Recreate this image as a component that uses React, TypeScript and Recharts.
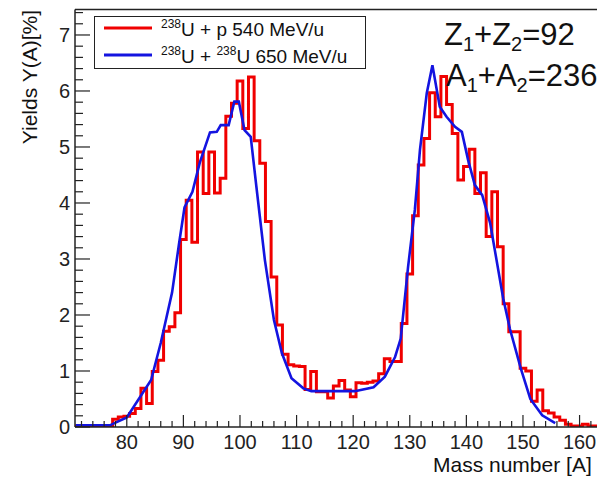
import React from "react";
import { ComposedChart, Legend, Line, ReferenceLine, XAxis, YAxis } from "recharts";

// 238U + p 540 MeV/u : histogram, one bin per mass number (71..163)
const protonA = Array.from({ length: 93 }, (_, i) => 71 + i);
const protonYields = [
  0.02, 0.02, 0.02, 0.02, 0.02, 0.02, 0.02, 0.14, 0.18, 0.19,
  0.24, 0.33, 0.69, 0.42, 0.99, 1.19, 1.71, 1.79, 2.04, 3.35,
  4.05, 3.3, 4.91, 4.17, 4.91, 4.18, 4.44, 5.55, 5.78, 6.18,
  5.33, 6.25, 5.11, 4.71, 3.67, 2.68, 1.82, 1.3, 1.11, 1.09,
  1.08, 0.67, 0.99, 0.63, 0.63, 0.52, 0.73, 0.83, 0.66, 0.54,
  0.79, 0.78, 0.8, 0.82, 0.95, 1.22, 1.17, 1.17, 1.85, 2.73,
  3.77, 4.68, 5.15, 5.97, 5.54, 6.26, 5.76, 5.24, 4.41, 4.65,
  4.96, 4.17, 4.54, 3.4, 4.2, 3.22, 2.2, 1.7, 1.7, 1.05,
  1.0, 0.46, 0.66, 0.29, 0.25, 0.18, 0.12, 0.05, 0.02, 0.02,
  0.05, 0.02, 0.02,
];

// 238U + 238U 650 MeV/u : calculated curve
const uraniumA = [
  71, 77, 80, 84.3, 86, 88, 89.2, 90.2, 91.6, 92.9,
  94.7, 95.9, 96.6, 98, 99, 99.8, 100.8, 101.9, 102.9, 104.4,
  106, 107.4, 109.1, 111.2, 112.6, 120.3, 123.6, 125.6, 127.4, 128.4,
  129.7, 130.9, 131.8, 133, 134, 135.3, 136.5, 138, 139.2, 140.3,
  141.5, 142.8, 144.2, 146.5, 147.7, 149.6, 151.3, 153.4, 155.7,
];
const uraniumYields = [
  0.03, 0.03, 0.17, 0.84, 1.5, 2.4, 3.25, 3.92, 4.2, 4.72,
  5.26, 5.27, 5.39, 5.39, 5.81, 5.81, 5.3, 5.18, 4.29, 2.98,
  1.91, 1.32, 0.87, 0.69, 0.64, 0.64, 0.71, 0.9, 1.25, 1.58,
  2.86, 3.88, 4.95, 5.96, 6.46, 5.72, 5.54, 5.36, 5.27, 4.77,
  4.32, 4.14, 3.64, 2.3, 1.75, 1.05, 0.5, 0.21, 0.07,
];

const X_MAJOR = [80, 90, 100, 110, 120, 130, 140, 150, 160];
const X_TICKS = Array.from({ length: 46 }, (_, i) => 72 + 2 * i);
const Y_MAJOR = [0, 1, 2, 3, 4, 5, 6, 7];
const Y_TICKS = Array.from({ length: 38 }, (_, i) => i / 5);

const X_MIN = 70.85;
const X_MAX = 163.08;
const Y_MAX = 7.455;

const RED = "#f00000";
const BLUE = "#1414e0";
const INK = "#222";
const FONT = '"Liberation Sans", Arial, Helvetica, sans-serif';

// bin edges at A-0.5 so a stepAfter line draws the histogram outline
const protonSteps = protonA.map((a, i) => ({ a: a - 0.5, y: protonYields[i] }));
protonSteps.push({ a: protonA[protonA.length - 1] + 0.5, y: protonYields[protonYields.length - 1] });
const uraniumCurve = uraniumA.map((a, i) => ({ a, y: uraniumYields[i] }));

function XTick({ x, y, payload }: any) {
  const v = payload.value;
  const major = X_MAJOR.includes(v);
  return (
    <g>
      <line x1={x} x2={x} y1={y} y2={y - (major ? 12 : 6)} stroke={INK} strokeWidth={1.2} />
      {major ? (
        <text x={x} y={y + 22} textAnchor="middle" fontSize={20} fill={INK} fontFamily={FONT}>
          {v}
        </text>
      ) : null}
    </g>
  );
}

function YTick({ x, y, payload }: any) {
  const v = payload.value;
  const major = Y_MAJOR.some((m) => Math.abs(m - v) < 1e-6);
  return (
    <g>
      <line x1={x} x2={x + (major ? 15 : 8)} y1={y} y2={y} stroke={INK} strokeWidth={1.2} />
      {major ? (
        <text x={x - 5} y={y + 7} textAnchor="end" fontSize={20} fill={INK} fontFamily={FONT}>
          {Math.round(v)}
        </text>
      ) : null}
    </g>
  );
}

function LegendBox() {
  return (
    <div style={{ width: 272, height: 53, border: `1.5px solid ${INK}`, boxSizing: "border-box", background: "#fff" }}>
      <svg width={270} height={50} style={{ display: "block" }}>
        <line x1={9} x2={57} y1={11} y2={11} stroke={RED} strokeWidth={3} />
        <line x1={9} x2={57} y1={38} y2={38} stroke={BLUE} strokeWidth={3} />
        <text x={66} y={19} fontSize={19} fill="#111" fontFamily={FONT}>
          <tspan fontSize={12} dy={-8}>238</tspan>
          <tspan dy={8}>U + p 540 MeV/u</tspan>
        </text>
        <text x={66} y={46} fontSize={19} fill="#111" fontFamily={FONT}>
          <tspan fontSize={12} dy={-8}>238</tspan>
          <tspan dy={8}>U + </tspan>
          <tspan fontSize={12} dy={-8}>238</tspan>
          <tspan dy={8}>U 650 MeV/u</tspan>
        </text>
      </svg>
    </div>
  );
}

export default function App() {
  return (
    <div style={{ position: "absolute", left: 0, top: 0, width: 597, height: 478, overflow: "hidden", background: "#fff" }}>
      <ComposedChart width={597} height={478} margin={{ top: 9.5, right: 0, bottom: 0, left: 0 }}>
        <XAxis
          dataKey="a"
          type="number"
          domain={[X_MIN, X_MAX]}
          allowDataOverflow
          ticks={X_TICKS}
          interval={0}
          tick={<XTick />}
          tickLine={false}
          tickSize={0}
          tickMargin={0}
          height={51}
          axisLine={{ stroke: INK, strokeWidth: 1.5 }}
          label={{
            content: () => (
              <text x={433} y={472} fontSize={21} fill="#111" fontFamily={FONT}>
                Mass number [A]
              </text>
            ),
          }}
        />
        <YAxis
          type="number"
          domain={[0, Y_MAX]}
          allowDataOverflow
          ticks={Y_TICKS}
          interval={0}
          tick={<YTick />}
          tickLine={false}
          tickSize={0}
          tickMargin={0}
          width={75}
          axisLine={{ stroke: INK, strokeWidth: 1.5 }}
          label={{
            content: () => (
              <text transform="translate(37,10) rotate(-90)" textAnchor="end" fontSize={21} fill="#111" fontFamily={FONT}>
                Yields Y(A)[%]
              </text>
            ),
          }}
        />
        <ReferenceLine y={Y_MAX} stroke={INK} strokeWidth={1.5} />
        <Line
          data={protonSteps}
          dataKey="y"
          name="238U + p 540 MeV/u"
          type="stepAfter"
          stroke={RED}
          strokeWidth={3}
          dot={false}
          isAnimationActive={false}
        />
        <Line
          data={uraniumCurve}
          dataKey="y"
          name="238U + 238U 650 MeV/u"
          type="linear"
          stroke={BLUE}
          strokeWidth={2.6}
          dot={false}
          isAnimationActive={false}
        />
        <Legend
          layout="vertical"
          verticalAlign="middle"
          align="center"
          content={() => <LegendBox />}
          wrapperStyle={{ left: 94, top: 16, width: 272, height: 53 }}
        />
      </ComposedChart>
      <svg width={597} height={100} style={{ position: "absolute", left: 0, top: 0, pointerEvents: "none" }}>
        <text x={444} y={45} fontSize={31} fill="#111" fontFamily={FONT}>
          Z<tspan fontSize={20} dy={6}>1</tspan>
          <tspan dy={-6}>+Z</tspan>
          <tspan fontSize={20} dy={6}>2</tspan>
          <tspan dy={-6}>=92</tspan>
        </text>
        <text x={446} y={86} fontSize={31} fill="#111" fontFamily={FONT}>
          A<tspan fontSize={20} dy={6}>1</tspan>
          <tspan dy={-6}>+A</tspan>
          <tspan fontSize={20} dy={6}>2</tspan>
          <tspan dy={-6}>=236</tspan>
        </text>
      </svg>
    </div>
  );
}
